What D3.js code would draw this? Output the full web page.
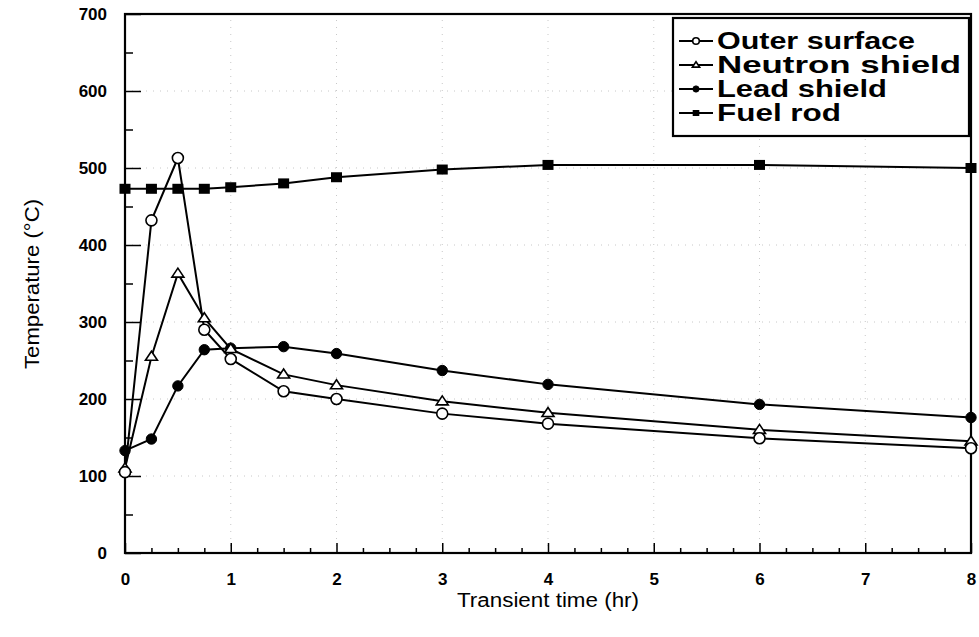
<!DOCTYPE html>
<html>
<head>
<meta charset="utf-8">
<script src="https://cdn.jsdelivr.net/npm/d3@7"></script>
<style>
  html, body { margin: 0; padding: 0; background: #fff; }
  svg { display: block; }
</style>
</head>
<body>
<svg id="chart" width="979" height="637"></svg>
<script>
// ---- data ----
const times = [0, 0.25, 0.5, 0.75, 1, 1.5, 2, 3, 4, 6, 8];
const outerSurface  = [105, 432, 513, 290, 252, 210, 200, 181, 168, 149, 136];
const neutronShield = [110, 255, 363, 305, 265, 232, 218, 197, 182, 160, 145];
const leadShield    = [133, 148, 217, 264, 266, 268, 259, 237, 219, 193, 176];
const fuelRod       = [473, 473, 473, 473, 475, 480, 488, 498, 504, 504, 500];
const seriesNames   = ["Outer surface", "Neutron shield", "Lead shield", "Fuel rod"];
const xTickValues   = [0, 1, 2, 3, 4, 5, 6, 7, 8];
const yTickValues   = [0, 100, 200, 300, 400, 500, 600, 700];
const xTitle = "Transient time (hr)";
const yTitle = "Temperature (°C)";

const seriesValues = [outerSurface, neutronShield, leadShield, fuelRod];
const markerTypes = ["openCircle", "openTriangle", "filledCircle", "filledSquare"];

const svg = d3.select("#chart");
const pLeft = 125, pRight = 971, pTop = 14, pBottom = 553;
const x = d3.scaleLinear().domain([0, 8]).range([pLeft, pRight]);
const y = d3.scaleLinear().domain([0, 700]).range([pBottom, pTop]);
const FONT = "'Liberation Sans', Arial, Helvetica, sans-serif";

// faint dotted grid at major ticks
const grid = svg.append("g");
xTickValues.slice(1, -1).forEach(v => {
  grid.append("line").attr("x1", x(v)).attr("x2", x(v)).attr("y1", y(0)).attr("y2", y(700))
    .attr("stroke", "#c8c8c8").attr("stroke-width", 1).attr("stroke-dasharray", "1,6");
});
yTickValues.slice(1, -1).forEach(v => {
  grid.append("line").attr("x1", x(0)).attr("x2", x(8)).attr("y1", y(v)).attr("y2", y(v))
    .attr("stroke", "#c8c8c8").attr("stroke-width", 1).attr("stroke-dasharray", "1,6");
});

// axes with inward ticks
const xMinor = d3.range(0, 8.001, 0.25).filter(v => Math.abs(v - Math.round(v)) > 1e-6);
const yMinor = d3.range(50, 700, 100);

svg.append("g").attr("transform", `translate(0,${pBottom})`)
  .call(d3.axisBottom(x).tickValues(xMinor).tickSize(-5).tickFormat(""))
  .call(g => g.select(".domain").remove())
  .selectAll("line").attr("stroke", "#000").attr("stroke-width", 1.5);
svg.append("g").attr("transform", `translate(0,${pBottom})`)
  .call(d3.axisBottom(x).tickValues(xTickValues).tickSize(-10).tickPadding(20).tickFormat(d3.format("d")))
  .call(g => g.select(".domain").remove())
  .call(g => g.selectAll("line").attr("stroke", "#000").attr("stroke-width", 1.5))
  .call(g => g.selectAll("text").attr("font-family", FONT).attr("font-size", 17)
    .attr("font-weight", "bold").attr("fill", "#000"));

svg.append("g").attr("transform", `translate(${pLeft},0)`)
  .call(d3.axisLeft(y).tickValues(yMinor).tickSize(-8).tickFormat(""))
  .call(g => g.select(".domain").remove())
  .selectAll("line").attr("stroke", "#000").attr("stroke-width", 1.5);
svg.append("g").attr("transform", `translate(${pLeft},0)`)
  .call(d3.axisLeft(y).tickValues(yTickValues).tickSize(-16).tickPadding(34).tickFormat(d3.format("d")))
  .call(g => g.select(".domain").remove())
  .call(g => g.selectAll("line").attr("stroke", "#000").attr("stroke-width", 1.5))
  .call(g => g.selectAll("text").attr("font-family", FONT).attr("font-size", 17)
    .attr("font-weight", "bold").attr("fill", "#000").attr("text-anchor", "end")
    .attr("dx", 16));

// frame
svg.append("rect").attr("x", pLeft).attr("y", pTop).attr("width", pRight - pLeft).attr("height", pBottom - pTop)
  .attr("fill", "none").attr("stroke", "#000").attr("stroke-width", 2.2);

// axis titles
svg.append("text").attr("x", 548).attr("y", 607).attr("text-anchor", "middle")
  .attr("font-family", FONT).attr("font-size", 20).attr("fill", "#000")
  .attr("textLength", 182).attr("lengthAdjust", "spacingAndGlyphs").text(xTitle);
svg.append("text").attr("transform", "translate(39,284) rotate(-90)").attr("text-anchor", "middle")
  .attr("font-family", FONT).attr("font-size", 20).attr("fill", "#000")
  .attr("textLength", 170).attr("lengthAdjust", "spacingAndGlyphs").text(yTitle);

// markers
function drawMarker(g, type, cx, cy, s) {
  if (type === "openCircle") {
    g.append("circle").attr("cx", cx).attr("cy", cy).attr("r", 5.5 * s)
      .attr("fill", "#fff").attr("stroke", "#000").attr("stroke-width", 1.6);
  } else if (type === "filledCircle") {
    g.append("circle").attr("cx", cx).attr("cy", cy).attr("r", 5.2 * s)
      .attr("fill", "#000").attr("stroke", "#000").attr("stroke-width", 1);
  } else if (type === "openTriangle") {
    const w = 6 * s, h = 9 * s;
    g.append("path").attr("d", `M${cx},${cy - h * 0.6}L${cx + w},${cy + h * 0.4}L${cx - w},${cy + h * 0.4}Z`)
      .attr("fill", "#fff").attr("stroke", "#000").attr("stroke-width", 1.6);
  } else {
    const w = 5.5 * s, h = 5 * s;
    g.append("rect").attr("x", cx - w).attr("y", cy - h).attr("width", 2 * w).attr("height", 2 * h)
      .attr("fill", "#000");
  }
}

const line = d3.line().x(d => x(d[0])).y(d => y(d[1]));
const order = [3, 2, 1, 0];
order.forEach(i => {
  const pts = times.map((t, k) => [t, seriesValues[i][k]]);
  svg.append("path").datum(pts).attr("d", line)
    .attr("fill", "none").attr("stroke", "#000").attr("stroke-width", 2);
});
order.forEach(i => {
  const g = svg.append("g");
  times.forEach((t, k) => drawMarker(g, markerTypes[i], x(t), y(seriesValues[i][k]), 1));
});

// legend
const lg = svg.append("g");
lg.append("rect").attr("x", 673).attr("y", 18).attr("width", 296).attr("height", 118)
  .attr("fill", "#fff").attr("stroke", "#000").attr("stroke-width", 2.2);
const rowY = [41, 65, 89, 113];
const textLens = [198, 244, 170, 124];
seriesNames.forEach((name, i) => {
  const cy = rowY[i];
  lg.append("line").attr("x1", 679).attr("x2", 713).attr("y1", cy).attr("y2", cy)
    .attr("stroke", "#000").attr("stroke-width", 2);
  drawMarker(lg, markerTypes[i], 696, cy, 0.6);
  lg.append("text").attr("x", 717).attr("y", cy + 8)
    .attr("font-family", FONT).attr("font-size", 23).attr("font-weight", "bold").attr("fill", "#000")
    .attr("textLength", textLens[i]).attr("lengthAdjust", "spacingAndGlyphs").text(name);
});
</script>
</body>
</html>
